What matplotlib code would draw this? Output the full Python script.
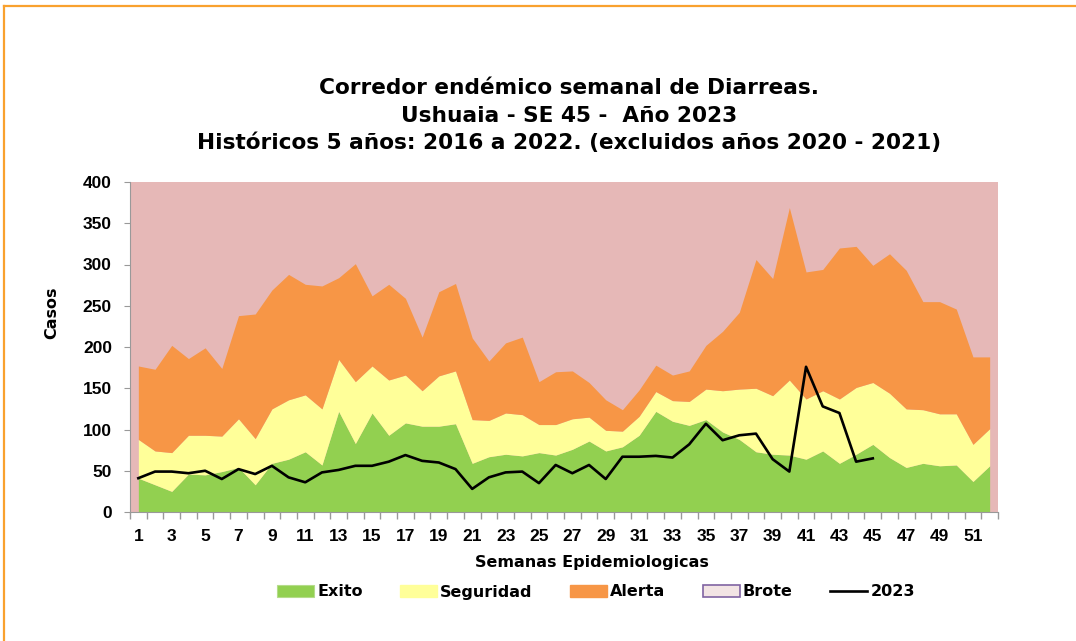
import matplotlib
matplotlib.use('Agg')
import matplotlib.pyplot as plt
from matplotlib.patches import Patch
from matplotlib.lines import Line2D
from matplotlib.ticker import MultipleLocator, FixedLocator

plt.rcParams['font.family'] = ['Liberation Sans', 'DejaVu Sans']
plt.rcParams['font.weight'] = 'bold'
ancha = ['DejaVu Sans']  # letra mas ancha para titulos y leyenda

# semanas epidemiologicas
semanas = list(range(1, 53))

# limite superior de cada zona (casos)
exito = [41, 33, 25, 46, 45, 49, 54, 33, 59, 64, 73, 57, 122, 83, 120, 93, 108, 104,
         104, 107, 59, 67, 70, 68, 72, 69, 76, 86, 74, 79, 93, 122, 110, 105, 112, 97,
         88, 73, 70, 69, 64, 74, 59, 70, 82, 66, 54, 59, 56, 57, 37, 56]
seguridad = [88, 74, 72, 93, 93, 92, 113, 89, 125, 136, 142, 125, 185, 158, 177, 160,
             166, 147, 165, 171, 112, 111, 120, 118, 106, 106, 113, 115, 99, 98, 116,
             146, 135, 134, 149, 147, 149, 150, 141, 160, 137, 147, 137, 151, 157, 144,
             125, 124, 119, 119, 82, 101]
alerta = [177, 173, 202, 186, 199, 174, 238, 240, 269, 288, 276, 274, 284, 301, 262,
          276, 259, 212, 267, 277, 211, 183, 205, 212, 158, 170, 171, 157, 136, 124,
          148, 178, 166, 171, 202, 219, 242, 306, 283, 369, 291, 294, 320, 322, 299,
          313, 293, 255, 255, 246, 188, 188]

# casos 2023 hasta la SE 45
casos_2023 = [41, 49, 49, 47, 50, 40, 52, 46, 56, 42, 36, 48, 51, 56, 56, 61, 69, 62,
              60, 52, 28, 42, 48, 49, 35, 57, 47, 57, 40, 67, 67, 68, 66, 82, 107, 87,
              93, 95, 64, 49, 176, 128, 120, 61, 65]

c_exito = '#92D050'
c_seg = '#FFFF99'
c_alerta = '#F79646'
c_brote = '#E6B8B7'

fig = plt.figure(figsize=(10.76, 6.41), dpi=100)
ax = fig.add_axes([130 / 1076, 1 - 512 / 641, 868 / 1076, 330 / 641])
ax.set_facecolor(c_brote)

ax.fill_between(semanas, 0, exito, color=c_exito, lw=0)
ax.fill_between(semanas, exito, seguridad, color=c_seg, lw=0)
ax.fill_between(semanas, seguridad, alerta, color=c_alerta, lw=0)
ax.plot(range(1, len(casos_2023) + 1), casos_2023, color='black', lw=1.9)

ax.set_xlim(0.5, 52.5)
ax.set_ylim(0, 400)
ax.yaxis.set_major_locator(MultipleLocator(50))
ax.xaxis.set_major_locator(FixedLocator(semanas[::2]))
ax.xaxis.set_minor_locator(FixedLocator([s + 0.5 for s in range(0, 53)]))
ax.tick_params(axis='x', which='major', length=0, labelsize=12.5, pad=12)
ax.tick_params(axis='x', which='minor', length=5, color='#999999', width=1)
ax.tick_params(axis='y', length=4, color='#999999', labelsize=12.5, pad=9)

for s in ['top', 'right']:
    ax.spines[s].set_visible(False)
for s in ['left', 'bottom']:
    ax.spines[s].set_color('#999999')

fig.text(52 / 1076, 1 - 313 / 641, 'Casos', rotation=90, ha='center', va='center',
         fontsize=11.5, fontweight='bold', family=ancha)
fig.text(592 / 1076, 1 - 563 / 641, 'Semanas Epidemiologicas', ha='center', va='center',
         fontsize=11.5, fontweight='bold', family=ancha)

titulos = ['Corredor endémico semanal de Diarreas.',
           'Ushuaia - SE 45 -  Año 2023',
           'Históricos 5 años: 2016 a 2022. (excluidos años 2020 - 2021)']
for t, yb in zip(titulos, [94, 122, 149]):
    fig.text(569 / 1076, 1 - yb / 641, t, ha='center', va='baseline',
             fontsize=15.6, fontweight='bold', family=ancha)

handles = [Patch(facecolor=c_exito, edgecolor='#B5DC8A', lw=0.8),
           Patch(facecolor=c_seg, edgecolor=c_seg),
           Patch(facecolor=c_alerta, edgecolor=c_alerta),
           Patch(facecolor='#F2E4E4', edgecolor='#8064A2', lw=1.2),
           Line2D([], [], color='black', lw=1.9)]
labels = ['Exito', 'Seguridad', 'Alerta', 'Brote', '2023']
fig.legend(handles, labels, loc='center', bbox_to_anchor=(596 / 1076, 1 - 592 / 641),
           ncol=5, frameon=False, prop={'family': ancha, 'weight': 'bold', 'size': 11.5},
           handlelength=2.3, handleheight=0.8, handletextpad=0.2, columnspacing=2.35)

# marco naranja
fig.add_artist(Line2D([4 / 1076, 1.0], [1 - 6 / 641, 1 - 6 / 641],
                      transform=fig.transFigure, color='#F9A12E', lw=1.6))
fig.add_artist(Line2D([4 / 1076, 4 / 1076], [0.0, 1 - 6 / 641],
                      transform=fig.transFigure, color='#F9A12E', lw=1.6))

fig.savefig('out.png', dpi=100)
